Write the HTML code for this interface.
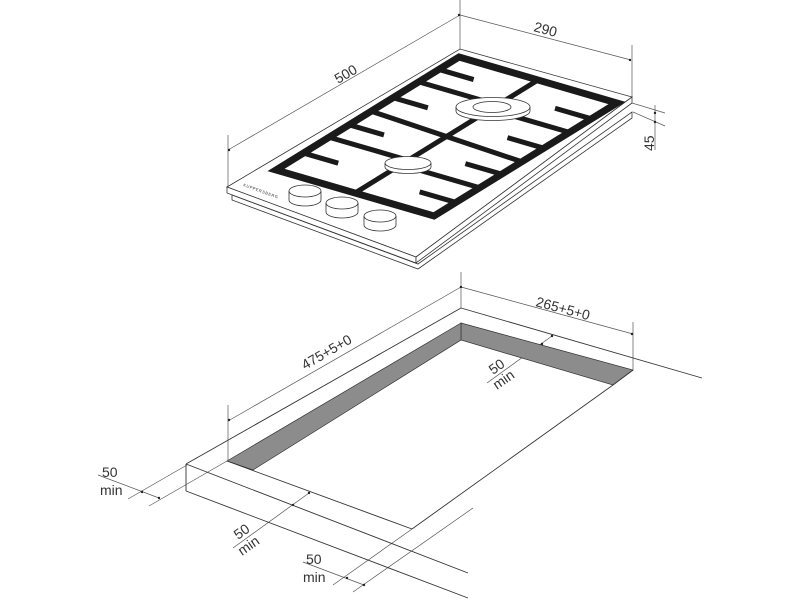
<!DOCTYPE html>
<html><head><meta charset="utf-8"><style>
html,body{margin:0;padding:0;background:#fff;width:800px;height:600px;overflow:hidden}
svg{display:block}
text{font-family:"Liberation Sans",sans-serif;fill:#333}
</style></head><body>
<svg width="800" height="600" viewBox="0 0 800 600" xmlns="http://www.w3.org/2000/svg">
<g fill="none" stroke="#555" stroke-width="0.7">
<line x1="460" y1="0" x2="460" y2="49"/>
<line x1="460" y1="15" x2="228" y2="150"/>
<line x1="228" y1="135" x2="228" y2="192"/>
<line x1="460" y1="15" x2="631" y2="60"/>
<line x1="632" y1="45" x2="632" y2="97"/>
<line x1="632" y1="103" x2="665" y2="113"/>
<line x1="633" y1="112" x2="665" y2="126"/>
<line x1="655" y1="105" x2="655" y2="150"/>
</g>
<g fill="#222">
<circle cx="459" cy="15" r="1.2"/><circle cx="229" cy="150" r="1.2"/><circle cx="630" cy="60" r="1.2"/>
<circle cx="655" cy="113" r="1.2"/><circle cx="655" cy="122" r="1.2"/>
</g>
<text x="0" y="0" font-size="14" transform="translate(338,84) rotate(-30)">500</text>
<text x="0" y="0" font-size="14" transform="translate(533,31) rotate(15)">290</text>
<text x="0" y="0" font-size="14" transform="translate(654,151) rotate(-90)">45</text>

<g fill="#fff" stroke="#333" stroke-width="0.8">
<polygon points="232,195 418,264 632,112 632,118 418,269 232,200"/>
<polygon points="227,187 460,49 632,97 416,257"/>
<polygon points="227,187 416,257 416,263 227,193"/>
<polygon points="416,257 632,97 632,103 416,263"/>
</g>
<text x="0" y="0" font-size="4" letter-spacing="0.6" transform="translate(243,186) rotate(20)">KUPPERSBERG</text>

<g transform="matrix(158,46,-183,113,459,57)" fill="none" stroke="#1a1a1a" stroke-linecap="butt">
<polygon points="0,0 1,0 1,1 0,1" stroke-width="7" vector-effect="non-scaling-stroke"/>
<g stroke-width="5">
<line x1="0.5" y1="0" x2="0.5" y2="1" vector-effect="non-scaling-stroke"/>
<line x1="0" y1="0.11" x2="0.22" y2="0.11" vector-effect="non-scaling-stroke"/>
<line x1="0" y1="0.22" x2="0.5" y2="0.22" vector-effect="non-scaling-stroke"/>
<line x1="0" y1="0.36" x2="0.22" y2="0.36" vector-effect="non-scaling-stroke"/>
<line x1="0" y1="0.48" x2="1" y2="0.52" vector-effect="non-scaling-stroke"/>
<line x1="0" y1="0.6" x2="0.22" y2="0.6" vector-effect="non-scaling-stroke"/>
<line x1="0" y1="0.71" x2="0.5" y2="0.71" vector-effect="non-scaling-stroke"/>
<line x1="0" y1="0.85" x2="0.22" y2="0.85" vector-effect="non-scaling-stroke"/>
<line x1="1" y1="0.14" x2="0.77" y2="0.14" vector-effect="non-scaling-stroke"/>
<line x1="1" y1="0.26" x2="0.5" y2="0.26" vector-effect="non-scaling-stroke"/>
<line x1="1" y1="0.4" x2="0.77" y2="0.4" vector-effect="non-scaling-stroke"/>
<line x1="1" y1="0.63" x2="0.77" y2="0.63" vector-effect="non-scaling-stroke"/>
<line x1="1" y1="0.75" x2="0.5" y2="0.75" vector-effect="non-scaling-stroke"/>
<line x1="1" y1="0.88" x2="0.77" y2="0.88" vector-effect="non-scaling-stroke"/>
</g>
</g>
<g fill="#fff" stroke="#333" stroke-width="0.8">
<path d="M456,107 v4 a37,9.5 0 0 0 74,0 v-4"/>
<ellipse cx="493" cy="107" rx="37" ry="9.5"/>
<ellipse cx="492" cy="107" rx="19" ry="5.5"/>
<path d="M385,163 v4 a23,6.5 0 0 0 46,0 v-4"/>
<ellipse cx="408" cy="163" rx="23" ry="6.5"/>
<path d="M289,191 v9 a16,6 0 0 0 32,0 v-9"/><ellipse cx="305" cy="191" rx="16" ry="6"/>
<path d="M326,203 v9 a16,6 0 0 0 32,0 v-9"/><ellipse cx="342" cy="203" rx="16" ry="6"/>
<path d="M364,216 v9 a16,6 0 0 0 32,0 v-9"/><ellipse cx="380" cy="216" rx="16" ry="6"/>
</g>

<g fill="none" stroke="#555" stroke-width="0.7">
<line x1="461" y1="272" x2="461" y2="308"/>
<line x1="461" y1="287" x2="228" y2="421"/>
<line x1="228" y1="405" x2="228" y2="461"/>
<line x1="461" y1="287" x2="633" y2="334"/>
<line x1="633" y1="322" x2="633" y2="370"/>
<line x1="552" y1="336" x2="487" y2="383"/>
<line x1="227" y1="461" x2="149" y2="506"/>
<line x1="187" y1="465" x2="128" y2="499"/>
<line x1="98" y1="475" x2="159" y2="498"/>
<line x1="309" y1="493" x2="233" y2="548"/>
<line x1="412" y1="529" x2="333" y2="585"/>
<line x1="473" y1="508" x2="353" y2="592"/>
<line x1="303" y1="562" x2="364" y2="585"/>
</g>
<g fill="#222">
<circle cx="461" cy="287" r="1.2"/><circle cx="229" cy="420" r="1.2"/><circle cx="632" cy="334" r="1.2"/>
<circle cx="552" cy="336" r="1.2"/><circle cx="542" cy="344" r="1.2"/>
<circle cx="142" cy="492" r="1.2"/><circle cx="159" cy="498" r="1.2"/>
<circle cx="309" cy="493" r="1.2"/><circle cx="293" cy="505" r="1.2"/>
<circle cx="347" cy="578" r="1.2"/><circle cx="364" cy="585" r="1.2"/>
</g>
<polygon points="461,323 633,370 613,385 461,340" fill="#8c8c8c" stroke="#333" stroke-width="0.7"/>
<polygon points="461,323 227,461 253,470 461,340" fill="#8c8c8c" stroke="#333" stroke-width="0.7"/>
<g fill="none" stroke="#333" stroke-width="0.9">
<line x1="461" y1="308" x2="702" y2="378"/>
<line x1="461" y1="308" x2="186" y2="464"/>
<line x1="186" y1="464" x2="186" y2="491"/>
<line x1="186" y1="464" x2="468" y2="573"/>
<line x1="186" y1="491" x2="468" y2="598"/>
<line x1="227" y1="461" x2="412" y2="529"/>
<line x1="613" y1="385" x2="412" y2="529"/>
<line x1="633" y1="370" x2="613" y2="385"/>
</g>
<text x="0" y="0" font-size="14" transform="translate(305,370) rotate(-30)">475+5+0</text>
<text x="0" y="0" font-size="14" transform="translate(535,306) rotate(15)">265+5+0</text>
<text x="0" y="0" font-size="14" transform="translate(493,375) rotate(-35)">50</text>
<text x="0" y="0" font-size="14" transform="translate(497,390) rotate(-35)">min</text>
<text x="102" y="477" font-size="14">50</text>
<text x="100" y="495" font-size="14">min</text>
<text x="0" y="0" font-size="14" transform="translate(238,540) rotate(-35)">50</text>
<text x="0" y="0" font-size="14" transform="translate(242,556) rotate(-35)">min</text>
<text x="306" y="564" font-size="14">50</text>
<text x="303" y="582" font-size="14">min</text>
</svg>
</body></html>
